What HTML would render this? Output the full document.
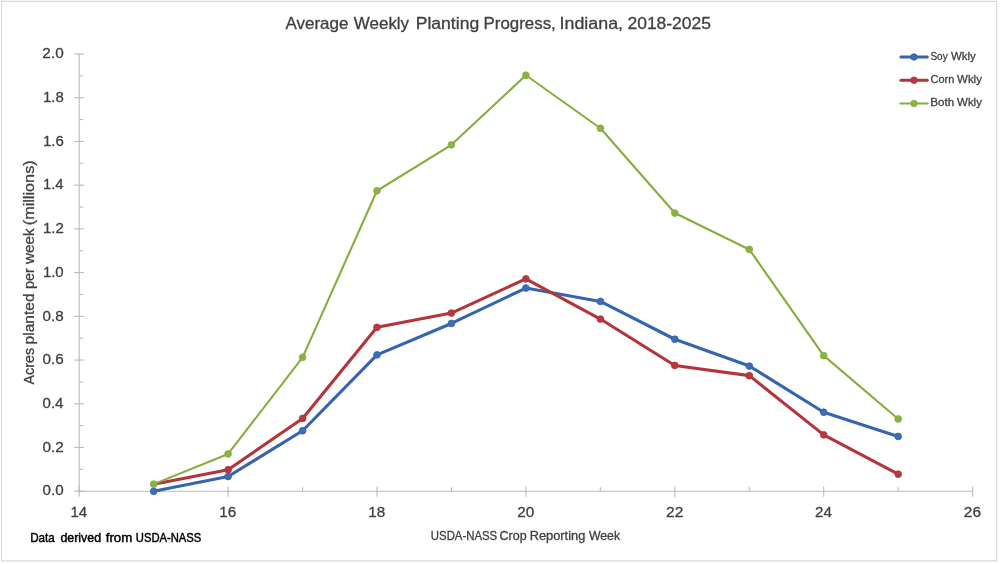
<!DOCTYPE html>
<html lang="en">
<head>
<meta charset="utf-8">
<title>Average Weekly Planting Progress, Indiana, 2018-2025</title>
<style>
html,body{margin:0;padding:0;background:#fff;}
body{width:1000px;height:564px;overflow:hidden;}
svg{display:block;}
text{font-family:"Liberation Sans",sans-serif;stroke-linejoin:round;}
</style>
</head>
<body>
<svg width="1000" height="564" viewBox="0 0 1000 564">
<rect x="0" y="0" width="1000" height="564" fill="#ffffff"/>
<rect x="0" y="0" width="998" height="1" fill="#f4f4f4"/>
<g fill="#d9d9d9"><rect x="1" y="1" width="996" height="1"/><rect x="1" y="1" width="1" height="560.4"/><rect x="996.05" y="1" width="1.2" height="560.4"/><rect x="1" y="560.3" width="996.25" height="1.25"/></g>
<g stroke="#bababa" stroke-width="1.1" fill="none">
<line x1="79.2" y1="53.5" x2="79.2" y2="491.7"/>
<line x1="78.7" y1="491.2" x2="973.1" y2="491.2"/>
<line x1="74.2" y1="491.20" x2="84.2" y2="491.20"/>
<line x1="79.2" y1="469.34" x2="83.2" y2="469.34"/>
<line x1="74.2" y1="447.48" x2="84.2" y2="447.48"/>
<line x1="79.2" y1="425.62" x2="83.2" y2="425.62"/>
<line x1="74.2" y1="403.76" x2="84.2" y2="403.76"/>
<line x1="79.2" y1="381.90" x2="83.2" y2="381.90"/>
<line x1="74.2" y1="360.04" x2="84.2" y2="360.04"/>
<line x1="79.2" y1="338.18" x2="83.2" y2="338.18"/>
<line x1="74.2" y1="316.32" x2="84.2" y2="316.32"/>
<line x1="79.2" y1="294.46" x2="83.2" y2="294.46"/>
<line x1="74.2" y1="272.60" x2="84.2" y2="272.60"/>
<line x1="79.2" y1="250.74" x2="83.2" y2="250.74"/>
<line x1="74.2" y1="228.88" x2="84.2" y2="228.88"/>
<line x1="79.2" y1="207.02" x2="83.2" y2="207.02"/>
<line x1="74.2" y1="185.16" x2="84.2" y2="185.16"/>
<line x1="79.2" y1="163.30" x2="83.2" y2="163.30"/>
<line x1="74.2" y1="141.44" x2="84.2" y2="141.44"/>
<line x1="79.2" y1="119.58" x2="83.2" y2="119.58"/>
<line x1="74.2" y1="97.72" x2="84.2" y2="97.72"/>
<line x1="79.2" y1="75.86" x2="83.2" y2="75.86"/>
<line x1="74.2" y1="54.00" x2="84.2" y2="54.00"/>
<line x1="79.20" y1="486.59999999999997" x2="79.20" y2="496.8"/>
<line x1="153.65" y1="487.2" x2="153.65" y2="491.2"/>
<line x1="228.10" y1="486.59999999999997" x2="228.10" y2="496.8"/>
<line x1="302.55" y1="487.2" x2="302.55" y2="491.2"/>
<line x1="377.00" y1="486.59999999999997" x2="377.00" y2="496.8"/>
<line x1="451.45" y1="487.2" x2="451.45" y2="491.2"/>
<line x1="525.90" y1="486.59999999999997" x2="525.90" y2="496.8"/>
<line x1="600.35" y1="487.2" x2="600.35" y2="491.2"/>
<line x1="674.80" y1="486.59999999999997" x2="674.80" y2="496.8"/>
<line x1="749.25" y1="487.2" x2="749.25" y2="491.2"/>
<line x1="823.70" y1="486.59999999999997" x2="823.70" y2="496.8"/>
<line x1="898.15" y1="487.2" x2="898.15" y2="491.2"/>
<line x1="972.60" y1="486.59999999999997" x2="972.60" y2="496.8"/>
</g>
<text y="495.4" font-size="15.1px" fill="#404040" stroke="#404040" stroke-width="0.3"><tspan x="42.56" textLength="21.08" lengthAdjust="spacingAndGlyphs">0.0</tspan></text>
<text y="451.7" font-size="15.1px" fill="#404040" stroke="#404040" stroke-width="0.3"><tspan x="42.55" textLength="21.27" lengthAdjust="spacingAndGlyphs">0.2</tspan></text>
<text y="408.0" font-size="15.1px" fill="#404040" stroke="#404040" stroke-width="0.3"><tspan x="42.56" textLength="20.93" lengthAdjust="spacingAndGlyphs">0.4</tspan></text>
<text y="364.2" font-size="15.1px" fill="#404040" stroke="#404040" stroke-width="0.3"><tspan x="42.56" textLength="21.16" lengthAdjust="spacingAndGlyphs">0.6</tspan></text>
<text y="320.5" font-size="15.1px" fill="#404040" stroke="#404040" stroke-width="0.3"><tspan x="42.56" textLength="21.16" lengthAdjust="spacingAndGlyphs">0.8</tspan></text>
<text y="276.8" font-size="15.1px" fill="#404040" stroke="#404040" stroke-width="0.3"><tspan x="42.91" textLength="20.72" lengthAdjust="spacingAndGlyphs">1.0</tspan></text>
<text y="233.1" font-size="15.1px" fill="#404040" stroke="#404040" stroke-width="0.3"><tspan x="42.90" textLength="20.90" lengthAdjust="spacingAndGlyphs">1.2</tspan></text>
<text y="189.4" font-size="15.1px" fill="#404040" stroke="#404040" stroke-width="0.3"><tspan x="42.92" textLength="20.56" lengthAdjust="spacingAndGlyphs">1.4</tspan></text>
<text y="145.6" font-size="15.1px" fill="#404040" stroke="#404040" stroke-width="0.3"><tspan x="42.91" textLength="20.80" lengthAdjust="spacingAndGlyphs">1.6</tspan></text>
<text y="101.9" font-size="15.1px" fill="#404040" stroke="#404040" stroke-width="0.3"><tspan x="42.91" textLength="20.79" lengthAdjust="spacingAndGlyphs">1.8</tspan></text>
<text y="58.2" font-size="15.1px" fill="#404040" stroke="#404040" stroke-width="0.3"><tspan x="42.38" textLength="21.27" lengthAdjust="spacingAndGlyphs">2.0</tspan></text>
<text y="517.3" font-size="15.1px" fill="#404040" stroke="#404040" stroke-width="0.3"><tspan x="70.41" textLength="16.68" lengthAdjust="spacingAndGlyphs">14</tspan></text>
<text y="517.3" font-size="15.1px" fill="#404040" stroke="#404040" stroke-width="0.3"><tspan x="219.29" textLength="16.93" lengthAdjust="spacingAndGlyphs">16</tspan></text>
<text y="517.3" font-size="15.1px" fill="#404040" stroke="#404040" stroke-width="0.3"><tspan x="368.19" textLength="16.92" lengthAdjust="spacingAndGlyphs">18</tspan></text>
<text y="517.3" font-size="15.1px" fill="#404040" stroke="#404040" stroke-width="0.3"><tspan x="517.18" textLength="17.07" lengthAdjust="spacingAndGlyphs">20</tspan></text>
<text y="517.3" font-size="15.1px" fill="#404040" stroke="#404040" stroke-width="0.3"><tspan x="666.07" textLength="17.26" lengthAdjust="spacingAndGlyphs">22</tspan></text>
<text y="517.3" font-size="15.1px" fill="#404040" stroke="#404040" stroke-width="0.3"><tspan x="814.99" textLength="16.91" lengthAdjust="spacingAndGlyphs">24</tspan></text>
<text y="517.3" font-size="15.1px" fill="#404040" stroke="#404040" stroke-width="0.3"><tspan x="963.87" textLength="17.15" lengthAdjust="spacingAndGlyphs">26</tspan></text>
<text y="29.45" font-size="16.5px" fill="#404040" stroke="#404040" stroke-width="0.3"><tspan x="285.52" textLength="62.88" lengthAdjust="spacingAndGlyphs">Average</tspan> <tspan x="353.88" textLength="55.21" lengthAdjust="spacingAndGlyphs">Weekly</tspan> <tspan x="415.71" textLength="63.47" lengthAdjust="spacingAndGlyphs">Planting</tspan> <tspan x="483.57" textLength="72.20" lengthAdjust="spacingAndGlyphs">Progress,</tspan> <tspan x="559.50" textLength="63.55" lengthAdjust="spacingAndGlyphs">Indiana,</tspan> <tspan x="627.47" textLength="83.51" lengthAdjust="spacingAndGlyphs">2018-2025</tspan></text>
<text y="0" font-size="15.1px" fill="#404040" stroke="#404040" stroke-width="0.3" transform="translate(34.3 384.5) rotate(-90)"><tspan x="0.12" textLength="36.44" lengthAdjust="spacingAndGlyphs">Acres</tspan> <tspan x="40.05" textLength="51.00" lengthAdjust="spacingAndGlyphs">planted</tspan> <tspan x="95.41" textLength="20.98" lengthAdjust="spacingAndGlyphs">per</tspan> <tspan x="120.57" textLength="35.46" lengthAdjust="spacingAndGlyphs">week</tspan> <tspan x="159.24" textLength="64.91" lengthAdjust="spacingAndGlyphs">(millions)</tspan></text>
<text y="539.7" font-size="12.0px" fill="#404040" stroke="#404040" stroke-width="0.3"><tspan x="430.87" textLength="66.30" lengthAdjust="spacingAndGlyphs">USDA-NASS</tspan> <tspan x="499.52" textLength="27.06" lengthAdjust="spacingAndGlyphs">Crop</tspan> <tspan x="529.70" textLength="55.58" lengthAdjust="spacingAndGlyphs">Reporting</tspan> <tspan x="588.90" textLength="31.14" lengthAdjust="spacingAndGlyphs">Week</tspan></text>
<text y="542.35" font-size="12.4px" fill="#000000" stroke="#000000" stroke-width="0.45"><tspan x="30.19" textLength="24.66" lengthAdjust="spacingAndGlyphs">Data</tspan> <tspan x="60.43" textLength="40.72" lengthAdjust="spacingAndGlyphs">derived</tspan> <tspan x="105.76" textLength="26.46" lengthAdjust="spacingAndGlyphs">from</tspan> <tspan x="135.78" textLength="65.58" lengthAdjust="spacingAndGlyphs">USDA-NASS</tspan></text>
<polyline points="153.7,491.35 228.1,476.55 302.6,430.75 377.0,354.85 451.4,323.45 525.9,288.05 600.4,301.45 674.8,339.25 749.3,366.05 823.7,412.25 898.2,436.45" fill="none" stroke="#3565b0" stroke-width="3.1" stroke-linejoin="round" stroke-linecap="round"/>
<circle cx="153.7" cy="491.35" r="3.4" fill="#3f6db3" stroke="#3565b0" stroke-width="0.8"/>
<circle cx="228.1" cy="476.55" r="3.4" fill="#3f6db3" stroke="#3565b0" stroke-width="0.8"/>
<circle cx="302.6" cy="430.75" r="3.4" fill="#3f6db3" stroke="#3565b0" stroke-width="0.8"/>
<circle cx="377.0" cy="354.85" r="3.4" fill="#3f6db3" stroke="#3565b0" stroke-width="0.8"/>
<circle cx="451.4" cy="323.45" r="3.4" fill="#3f6db3" stroke="#3565b0" stroke-width="0.8"/>
<circle cx="525.9" cy="288.05" r="3.4" fill="#3f6db3" stroke="#3565b0" stroke-width="0.8"/>
<circle cx="600.4" cy="301.45" r="3.4" fill="#3f6db3" stroke="#3565b0" stroke-width="0.8"/>
<circle cx="674.8" cy="339.25" r="3.4" fill="#3f6db3" stroke="#3565b0" stroke-width="0.8"/>
<circle cx="749.3" cy="366.05" r="3.4" fill="#3f6db3" stroke="#3565b0" stroke-width="0.8"/>
<circle cx="823.7" cy="412.25" r="3.4" fill="#3f6db3" stroke="#3565b0" stroke-width="0.8"/>
<circle cx="898.2" cy="436.45" r="3.4" fill="#3f6db3" stroke="#3565b0" stroke-width="0.8"/>
<polyline points="153.7,484.15 228.1,469.75 302.6,418.45 377.0,327.35 451.4,313.05 525.9,278.85 600.4,319.05 674.8,365.45 749.3,375.65 823.7,434.85 898.2,474.15" fill="none" stroke="#b2353b" stroke-width="3.1" stroke-linejoin="round" stroke-linecap="round"/>
<circle cx="153.7" cy="484.15" r="2.8" fill="#b53a3f" stroke="#b2353b" stroke-width="0.8"/>
<circle cx="228.1" cy="469.75" r="3.4" fill="#b53a3f" stroke="#b2353b" stroke-width="0.8"/>
<circle cx="302.6" cy="418.45" r="3.4" fill="#b53a3f" stroke="#b2353b" stroke-width="0.8"/>
<circle cx="377.0" cy="327.35" r="3.4" fill="#b53a3f" stroke="#b2353b" stroke-width="0.8"/>
<circle cx="451.4" cy="313.05" r="3.4" fill="#b53a3f" stroke="#b2353b" stroke-width="0.8"/>
<circle cx="525.9" cy="278.85" r="3.4" fill="#b53a3f" stroke="#b2353b" stroke-width="0.8"/>
<circle cx="600.4" cy="319.05" r="3.4" fill="#b53a3f" stroke="#b2353b" stroke-width="0.8"/>
<circle cx="674.8" cy="365.45" r="3.4" fill="#b53a3f" stroke="#b2353b" stroke-width="0.8"/>
<circle cx="749.3" cy="375.65" r="3.4" fill="#b53a3f" stroke="#b2353b" stroke-width="0.8"/>
<circle cx="823.7" cy="434.85" r="3.4" fill="#b53a3f" stroke="#b2353b" stroke-width="0.8"/>
<circle cx="898.2" cy="474.15" r="3.4" fill="#b53a3f" stroke="#b2353b" stroke-width="0.8"/>
<polyline points="153.7,484.15 228.1,453.95 302.6,357.35 377.0,190.75 451.4,144.85 525.9,75.25 600.4,128.25 674.8,213.05 749.3,249.45 823.7,355.65 898.2,418.95" fill="none" stroke="#86ad3e" stroke-width="2.1" stroke-linejoin="round" stroke-linecap="round"/>
<circle cx="153.7" cy="484.15" r="3.4" fill="#8ab342" stroke="#86ad3e" stroke-width="0.8"/>
<circle cx="228.1" cy="453.95" r="3.4" fill="#8ab342" stroke="#86ad3e" stroke-width="0.8"/>
<circle cx="302.6" cy="357.35" r="3.4" fill="#8ab342" stroke="#86ad3e" stroke-width="0.8"/>
<circle cx="377.0" cy="190.75" r="3.4" fill="#8ab342" stroke="#86ad3e" stroke-width="0.8"/>
<circle cx="451.4" cy="144.85" r="3.4" fill="#8ab342" stroke="#86ad3e" stroke-width="0.8"/>
<circle cx="525.9" cy="75.25" r="3.4" fill="#8ab342" stroke="#86ad3e" stroke-width="0.8"/>
<circle cx="600.4" cy="128.25" r="3.4" fill="#8ab342" stroke="#86ad3e" stroke-width="0.8"/>
<circle cx="674.8" cy="213.05" r="3.4" fill="#8ab342" stroke="#86ad3e" stroke-width="0.8"/>
<circle cx="749.3" cy="249.45" r="3.4" fill="#8ab342" stroke="#86ad3e" stroke-width="0.8"/>
<circle cx="823.7" cy="355.65" r="3.4" fill="#8ab342" stroke="#86ad3e" stroke-width="0.8"/>
<circle cx="898.2" cy="418.95" r="3.4" fill="#8ab342" stroke="#86ad3e" stroke-width="0.8"/>
<line x1="900.95" y1="57.0" x2="927.25" y2="57.0" stroke="#3565b0" stroke-width="3.1" stroke-linecap="round"/>
<circle cx="914.0" cy="57.0" r="3.3" fill="#3f6db3" stroke="#3565b0" stroke-width="0.8"/>
<text y="59.55" font-size="11.3px" fill="#404040" stroke="#404040" stroke-width="0.3"><tspan x="930.39" textLength="17.27" lengthAdjust="spacingAndGlyphs">Soy</tspan> <tspan x="951.00" textLength="24.87" lengthAdjust="spacingAndGlyphs">Wkly</tspan></text>
<line x1="900.95" y1="80.2" x2="927.25" y2="80.2" stroke="#b2353b" stroke-width="3.1" stroke-linecap="round"/>
<circle cx="914.0" cy="80.2" r="3.3" fill="#b53a3f" stroke="#b2353b" stroke-width="0.8"/>
<text y="82.80" font-size="11.3px" fill="#404040" stroke="#404040" stroke-width="0.3"><tspan x="930.49" textLength="23.77" lengthAdjust="spacingAndGlyphs">Corn</tspan> <tspan x="957.05" textLength="24.87" lengthAdjust="spacingAndGlyphs">Wkly</tspan></text>
<line x1="900.45" y1="103.5" x2="927.75" y2="103.5" stroke="#86ad3e" stroke-width="2.1" stroke-linecap="round"/>
<circle cx="914.0" cy="103.5" r="3.3" fill="#8ab342" stroke="#86ad3e" stroke-width="0.8"/>
<text y="106.15" font-size="11.3px" fill="#404040" stroke="#404040" stroke-width="0.3"><tspan x="930.29" textLength="24.02" lengthAdjust="spacingAndGlyphs">Both</tspan> <tspan x="957.05" textLength="24.87" lengthAdjust="spacingAndGlyphs">Wkly</tspan></text>
</svg>
</body>
</html>
